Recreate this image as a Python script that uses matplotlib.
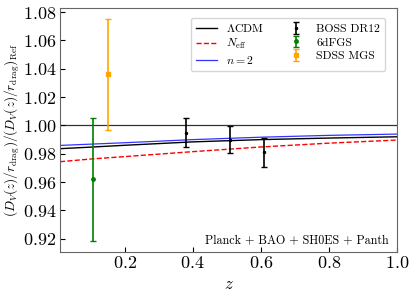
import numpy as np
import matplotlib
matplotlib.use("Agg")
import matplotlib.pyplot as plt

plt.rcParams['mathtext.fontset'] = 'cm'
plt.rcParams['font.family'] = 'serif'
plt.rcParams['font.serif'] = ['cmr10', 'DejaVu Serif']
plt.rcParams['axes.formatter.use_mathtext'] = True

# model curves
z_model = [0.01, 0.1, 0.2, 0.4, 0.6, 0.8, 1.0]
lcdm = [0.9836, 0.9847, 0.9860, 0.9884, 0.9900, 0.9911, 0.9920]
neff = [0.9744, 0.9763, 0.9780, 0.9815, 0.9848, 0.9875, 0.9897]
n2 = [0.9859, 0.9868, 0.9878, 0.9900, 0.9917, 0.9930, 0.9939]

# BAO data
z_boss = [0.38, 0.51, 0.61]
v_boss = [0.995, 0.990, 0.981]
e_boss = [0.0105, 0.0095, 0.010]

z_6df = [0.106]
v_6df = [0.962]
e_6df = [0.0435]

z_mgs = [0.15]
v_mgs = [1.036]
e_mgs = [0.039]

fig = plt.figure(figsize=(4.11, 3.0), dpi=100)
ax = fig.add_axes([0.146, 0.16, 0.82, 0.813])

ax.axhline(1.0, color='k', lw=0.9, alpha=0.8)
ax.plot(z_model, lcdm, color='k', lw=1.0, label=r'$\Lambda$CDM')
ax.plot(z_model, neff, color='red', ls='--', lw=1.0, label=r'$N_{\rm eff}$')
ax.plot(z_model, n2, color='blue', lw=0.9, alpha=0.8, label=r'$n=2$')

ax.errorbar(z_boss, v_boss, yerr=e_boss, fmt='.', color='k', ms=3, capsize=2, lw=1.2, label='BOSS DR12')
ax.errorbar(z_6df, v_6df, yerr=e_6df, fmt='o', color='green', ms=2.5, capsize=2, lw=1.2, label='6dFGS')
ax.errorbar(z_mgs, v_mgs, yerr=e_mgs, fmt='s', color='orange', ms=3.5, capsize=2, lw=1.2, label='SDSS MGS')

ax.set_xlim(0.01, 1.0)
ax.set_xticks([0.2, 0.4, 0.6, 0.8, 1.0])
ax.set_yticks(np.arange(0.92, 1.081, 0.02))
ax.tick_params(direction='in', labelsize=13, pad=2.5)
for s in ax.spines.values():
    s.set_color('0.4')

ax.set_xlabel(r'$z$', fontsize=12)
ax.set_ylabel(r'$(D_V(z)/r_{\rm drag})/(D_V(z)/r_{\rm drag})_{\rm Ref}$', fontsize=9.5, labelpad=1)

ax.legend(ncol=2, loc='upper right', fontsize=8.5, handlelength=1.8, columnspacing=1.8,
          labelspacing=0.25, borderaxespad=0.6, bbox_to_anchor=(0.985, 0.99))
ax.text(0.975, 0.025, 'Planck + BAO + SH0ES + Panth', transform=ax.transAxes,
        ha='right', va='bottom', fontsize=8.7)

fig.savefig('out.png', dpi=100)
